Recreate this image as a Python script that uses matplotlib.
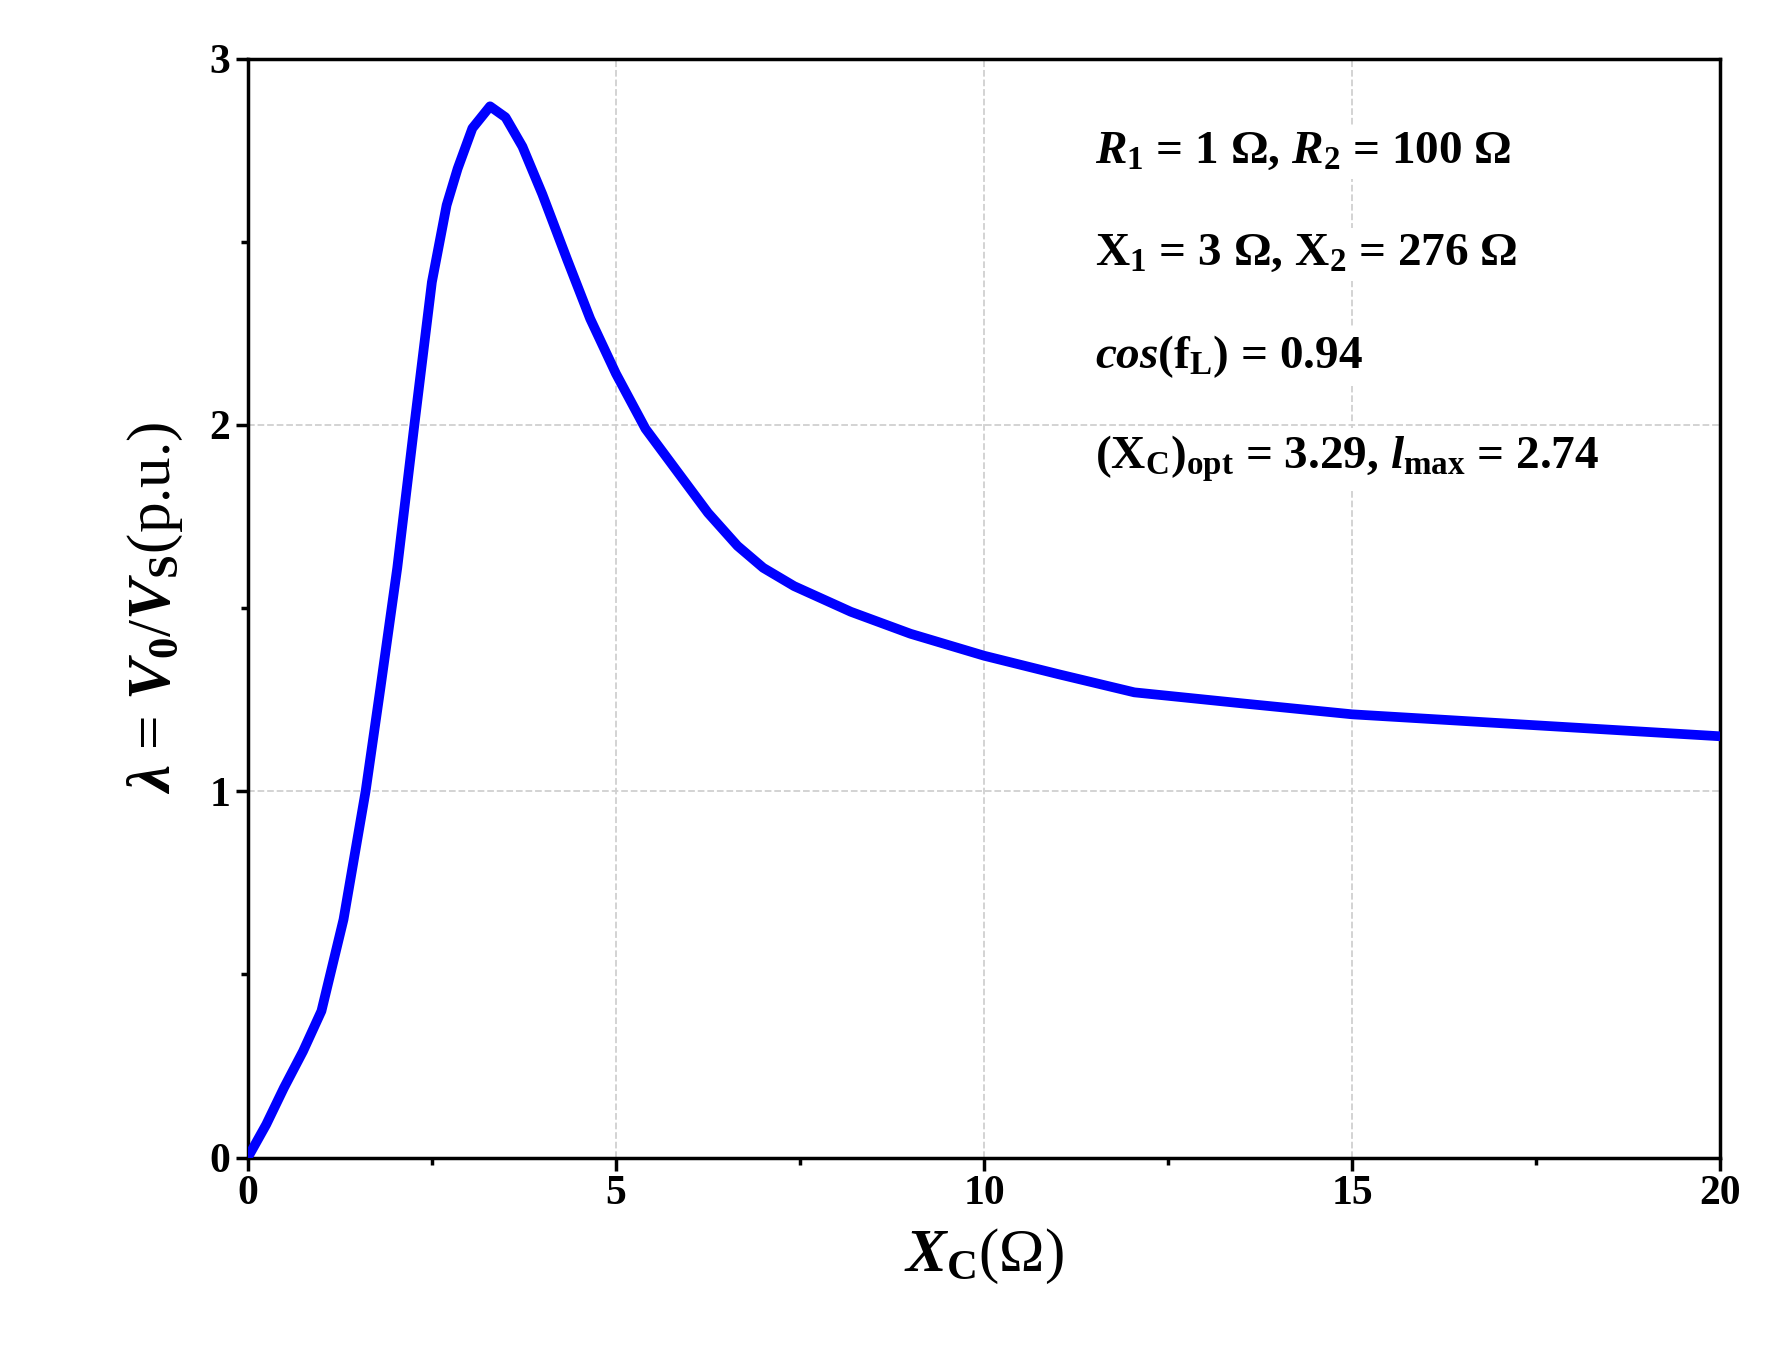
import matplotlib
matplotlib.use("Agg")
import matplotlib.pyplot as plt
from matplotlib.ticker import MultipleLocator

plt.rcParams['font.family'] = ['Liberation Serif', 'DejaVu Serif']
plt.rcParams['font.weight'] = 'bold'
plt.rcParams['mathtext.fontset'] = 'custom'
plt.rcParams['mathtext.rm'] = 'Liberation Serif:bold'
plt.rcParams['mathtext.it'] = 'Liberation Serif:bold:italic'
plt.rcParams['mathtext.bf'] = 'Liberation Serif:bold'

# curve
xc = [0.0, 0.25, 0.49, 0.75, 1.0, 1.3, 1.6, 1.8, 2.03, 2.25, 2.5, 2.7, 2.85,
      3.05, 3.29, 3.5, 3.73, 4.0, 4.34, 4.65, 5.0, 5.4, 5.88, 6.25, 6.65,
      7.0, 7.42, 8.19, 9.0, 10.0, 11.0, 12.04, 13.5, 15.0, 17.5, 20.0]
lam = [0.0, 0.09, 0.19, 0.29, 0.40, 0.65, 1.0, 1.28, 1.61, 1.98, 2.39, 2.60,
       2.70, 2.81, 2.87, 2.84, 2.76, 2.63, 2.45, 2.29, 2.14, 1.99, 1.86,
       1.76, 1.67, 1.61, 1.56, 1.49, 1.43, 1.37, 1.32, 1.27, 1.24, 1.21,
       1.18, 1.15]

notes = [r"$R_1$ = 1 Ω, $R_2$ = 100 Ω",
         r"X$_1$ = 3 Ω, X$_2$ = 276 Ω",
         r"$cos$(f$_{\mathrm{L}}$) = 0.94",
         r"(X$_{\mathrm{C}}$)$_{\mathrm{opt}}$ = 3.29, $l_{\mathrm{max}}$ = 2.74"]

fig = plt.figure(figsize=(17.7, 13.65), dpi=100)
ax = fig.add_axes([0.14, 0.152, 0.832, 0.805])

ax.plot(xc, lam, color='#0000ff', lw=7, solid_capstyle='round', solid_joinstyle='round', zorder=3)

ax.set_xlim(0, 20)
ax.set_ylim(0, 3)
ax.xaxis.set_major_locator(MultipleLocator(5))
ax.xaxis.set_minor_locator(MultipleLocator(2.5))
ax.yaxis.set_major_locator(MultipleLocator(1))
ax.yaxis.set_minor_locator(MultipleLocator(0.5))
ax.tick_params(which='both', direction='out', width=2.5, labelsize=30)
ax.tick_params(which='major', length=9)
ax.tick_params(which='minor', length=5)
for s in ax.spines.values():
    s.set_linewidth(2.5)
ax.grid(True, which='major', color='#d0d0d0', ls='--', lw=1.3)
ax.set_axisbelow(True)

ax.set_xlabel(r"$X_{\mathrm{C}}$(Ω)", fontsize=44, labelpad=10)
ax.set_ylabel(r"$\lambda$ = $V_0$/$V_{\mathrm{S}}$(p.u.)", fontsize=44, labelpad=18)

for i, t in enumerate(notes):
    ax.text(0.575, 0.915 - i * 0.093, t, transform=ax.transAxes, fontsize=34,
            va='center', ha='left', zorder=4,
            bbox=dict(facecolor='white', edgecolor='none', pad=4))

fig.savefig("out.png", dpi=100)
